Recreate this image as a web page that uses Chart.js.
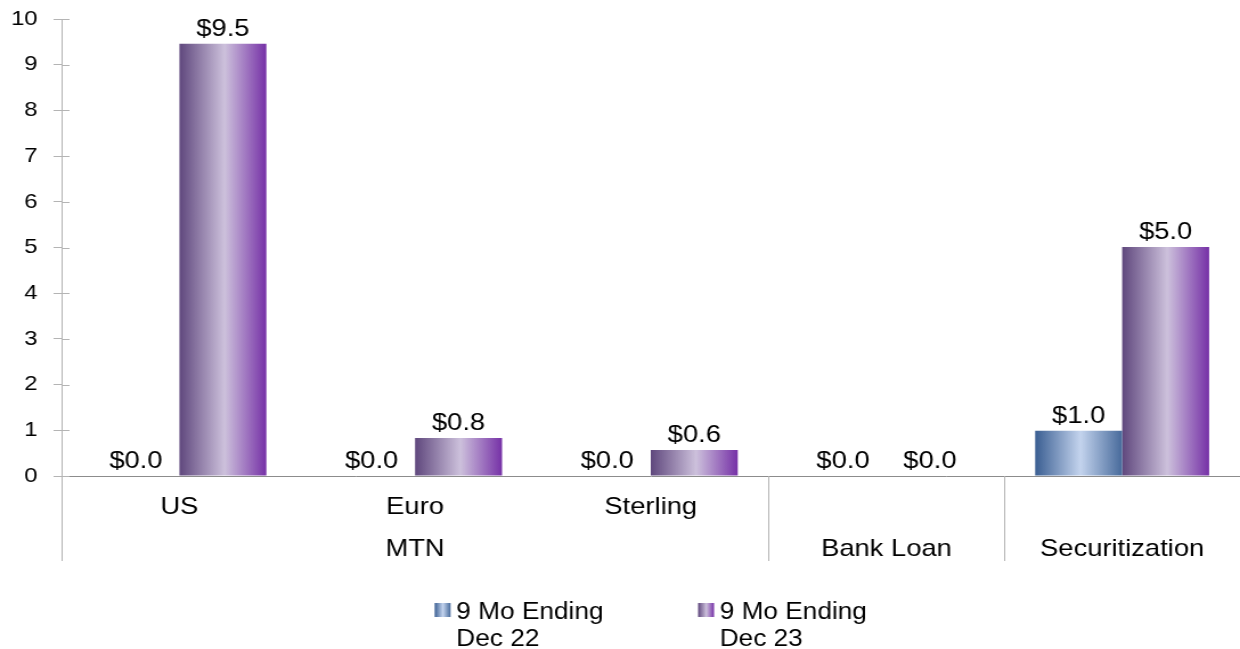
<!DOCTYPE html>
<html>
<head>
<meta charset="utf-8">
<script src="https://cdn.jsdelivr.net/npm/chart.js@4.4.1/dist/chart.umd.min.js"></script>
<style>
html, body { margin: 0; padding: 0; background: #fff; overflow: hidden; }
#chart { display: block; }
</style>
</head>
<body>
<canvas id="chart" width="1088" height="649" style="width:1240px;height:649px"></canvas>
<script>
// data (billions)
const categories = ['US', 'Euro', 'Sterling', '', ''];
const groups = ['MTN', 'MTN', 'MTN', 'Bank Loan', 'Securitization'];
const dec22Values = [0, 0, 0, 0, 0.99];
const dec23Values = [9.46, 0.83, 0.57, 0, 5.01];
const seriesLabels = [['9 Mo Ending', 'Dec 22'], ['9 Mo Ending', 'Dec 23']];
const yTickValues = [0, 1, 2, 3, 4, 5, 6, 7, 8, 9, 10];

const FONT = "'Liberation Sans', Arial, sans-serif";
const AXIS_GREY = '#b4b4b4';
const CAT_PCT = 0.738;
const gradStops = [
    ['#3a5e92', '#c4d4ee', '#476a9b'],
    ['#5f477d', '#cdc1dc', '#7631a7']
];

// two-line labels: category on top, group name under the middle of its run
const labels = categories.map(c => [c, '']);
let start = 0;
for (let i = 1; i <= groups.length; i++) {
    if (i === groups.length || groups[i] !== groups[start]) {
        labels[Math.floor((start + i - 1) / 2)][1] = groups[start];
        start = i;
    }
}

function makeGrad(ctx, x0, x1, stops) {
    const g = ctx.createLinearGradient(x0, 0, x1, 0);
    g.addColorStop(0, stops[0]);
    g.addColorStop(0.52, stops[1]);
    g.addColorStop(1, stops[2]);
    return g;
}

// horizontal gradient per bar, placed from the x scale
function barFill(c) {
    const stops = gradStops[c.datasetIndex];
    const xs = c.chart.scales.x;
    if (!xs || !c.chart.chartArea || c.dataIndex === undefined) return stops[0];
    const centre = xs.getPixelForValue(c.dataIndex);
    const bw = xs.width / categories.length * CAT_PCT / 2;
    const x0 = c.datasetIndex === 0 ? centre - bw : centre;
    return makeGrad(c.chart.ctx, x0, x0 + bw, stops);
}

const decor = {
    id: 'decor',
    afterDatasetsDraw(chart) {
        const ctx = chart.ctx;
        ctx.save();
        ctx.font = '24px ' + FONT;
        ctx.fillStyle = '#000';
        ctx.textAlign = 'center';
        ctx.textBaseline = 'alphabetic';
        chart.data.datasets.forEach((ds, di) => {
            chart.getDatasetMeta(di).data.forEach((bar, i) => {
                const {x, y} = bar.getProps(['x', 'y'], true);
                ctx.fillText('$' + ds.data[i].toFixed(1), x, y - 8);
            });
        });
        ctx.restore();
    },
    afterDraw(chart) {
        const ctx = chart.ctx;
        const area = chart.chartArea;
        const xs = chart.scales.x;
        const ys = chart.scales.y;
        ctx.save();
        ctx.strokeStyle = AXIS_GREY;
        ctx.lineWidth = 1;
        // group separators below the axis
        for (let i = 0; i < groups.length; i++) {
            if (i > 0 && groups[i] === groups[i - 1]) continue;
            let px = i === 0 ? area.left : (xs.getPixelForValue(i - 1) + xs.getPixelForValue(i)) / 2;
            px = Math.round(px) + 0.5;
            ctx.beginPath();
            ctx.moveTo(px, area.bottom);
            ctx.lineTo(px, area.bottom + 85);
            ctx.stroke();
        }
        // inner half of the y tick marks
        yTickValues.forEach(v => {
            const py = Math.round(ys.getPixelForValue(v)) + 0.5;
            ctx.beginPath();
            ctx.moveTo(area.left, py);
            ctx.lineTo(area.left + 7, py);
            ctx.stroke();
        });
        // legend with wrapped labels
        ctx.font = '23px ' + FONT;
        ctx.textAlign = 'left';
        ctx.textBaseline = 'alphabetic';
        const box = 14, gap = 5, spacing = 83;
        const widths = seriesLabels.map(l => box + gap + Math.max(...l.map(t => ctx.measureText(t).width)));
        const total = widths.reduce((a, b) => a + b, 0) + spacing * (widths.length - 1);
        let lx = (area.left + area.right) / 2 - total / 2;
        seriesLabels.forEach((lines, di) => {
            ctx.fillStyle = makeGrad(ctx, lx, lx + box, gradStops[di]);
            ctx.fillRect(lx, 603, box, 14);
            ctx.fillStyle = '#000';
            lines.forEach((t, li) => ctx.fillText(t, lx + box + gap, 619 + li * 27));
            lx += widths[di] + spacing;
        });
        ctx.restore();
    }
};

new Chart(document.getElementById('chart'), {
    type: 'bar',
    data: {
        labels: labels,
        datasets: [
            { label: seriesLabels[0].join(' '), data: dec22Values, borderWidth: 0, backgroundColor: barFill },
            { label: seriesLabels[1].join(' '), data: dec23Values, borderWidth: 0, backgroundColor: barFill }
        ]
    },
    options: {
        responsive: false,
        animation: false,
        devicePixelRatio: 1,
        layout: { padding: { top: 19, left: 0, right: 0, bottom: 0 } },
        datasets: { bar: { categoryPercentage: CAT_PCT, barPercentage: 1.0 } },
        plugins: {
            legend: { display: false },
            tooltip: { enabled: false }
        },
        scales: {
            x: {
                grid: { display: false },
                border: { display: true, color: '#8c8c8c', width: 1 },
                ticks: {
                    autoSkip: false,
                    maxRotation: 0,
                    color: '#000',
                    padding: 2,
                    font: { family: FONT, size: 24, lineHeight: 1.75 }
                },
                afterFit: scale => { scale.height = 173; }
            },
            y: {
                min: 0,
                max: 10,
                afterBuildTicks: scale => { scale.ticks = yTickValues.map(v => ({ value: v })); },
                grid: { drawOnChartArea: false, color: AXIS_GREY, tickLength: 7 },
                border: { display: true, color: AXIS_GREY, width: 1 },
                ticks: {
                    color: '#000',
                    padding: 14,
                    font: { family: FONT, size: 21 }
                },
                afterFit: scale => {
                    scale.width = 54;
                    scale.paddingTop = 0;
                    scale.paddingBottom = 0;
                }
            }
        }
    },
    plugins: [decor]
});
</script>
</body>
</html>
